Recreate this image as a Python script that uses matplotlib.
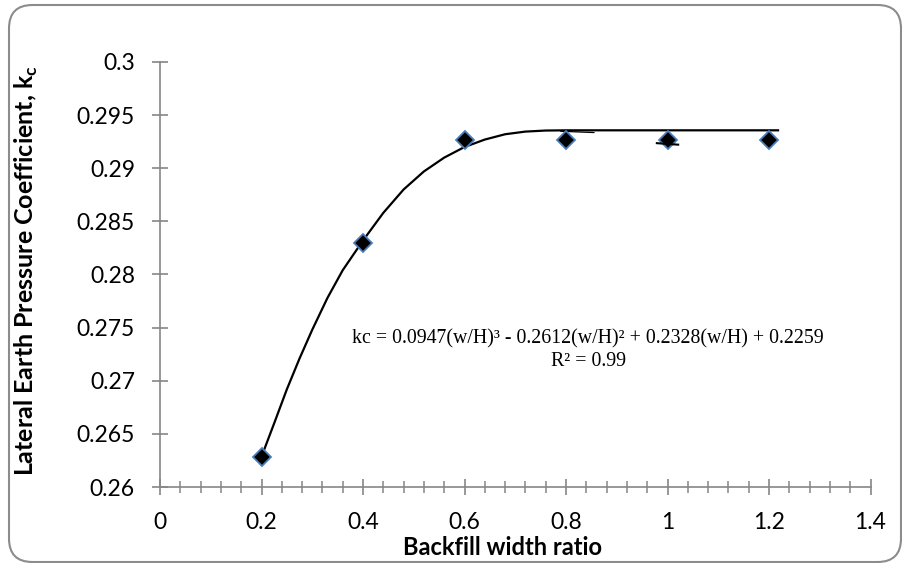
import matplotlib
matplotlib.use("Agg")
import matplotlib.pyplot as plt
from matplotlib.patches import FancyBboxPatch
from matplotlib.ticker import MultipleLocator

# ---- data ----
width_ratio = [0.2, 0.4, 0.6, 0.8, 1.0, 1.2]
kc_values = [0.26285, 0.2830, 0.29266, 0.29266, 0.29266, 0.29266]

# trend line
trend_x = [0.2, 0.225, 0.25, 0.275, 0.3, 0.33, 0.36, 0.4, 0.44, 0.48, 0.52,
           0.56, 0.6, 0.64, 0.68, 0.72, 0.76, 0.8, 1.0, 1.22]
trend_y = [0.26285, 0.2660, 0.2692, 0.2721, 0.2748, 0.2778, 0.2804, 0.2832,
           0.2858, 0.2880, 0.2897, 0.2910, 0.2920, 0.2927, 0.2932, 0.29345,
           0.29355, 0.29357, 0.29357, 0.29357]
# small stray strokes in the reference
hook_x = [0.79, 0.855]
hook_y = [0.29348, 0.29336]
dash_x = [0.979, 1.021]
dash_y = [0.29236, 0.29222]

x_ticks = [0, 0.2, 0.4, 0.6, 0.8, 1.0, 1.2, 1.4]
x_tick_labels = ["0", "0.2", "0.4", "0.6", "0.8", "1", "1.2", "1.4"]
y_ticks = [0.26, 0.265, 0.27, 0.275, 0.28, 0.285, 0.29, 0.295, 0.3]
y_tick_labels = ["0.26", "0.265", "0.27", "0.275", "0.28", "0.285", "0.29", "0.295", "0.3"]

equation = "kc = 0.0947(w/H)³ - 0.2612(w/H)² + 0.2328(w/H) + 0.2259"
r2_text = "R² = 0.99"

plt.rcParams['font.family'] = ['Lato', 'DejaVu Sans']
plt.rcParams['mathtext.fontset'] = 'custom'
plt.rcParams['mathtext.rm'] = 'Lato'
plt.rcParams['mathtext.bf'] = 'Lato:bold'

W, H = 902, 563
fig = plt.figure(figsize=(W / 100, H / 100), dpi=100)

# rounded border
border = FancyBboxPatch((9 / W, 1 / H), (W - 9 - 1) / W, (H - 4 - 2) / H,
                        boxstyle="round,pad=0,rounding_size=0.026",
                        transform=fig.transFigure, facecolor='none',
                        edgecolor='#8c8c8c', linewidth=1.5,
                        mutation_aspect=W / H, zorder=-1)
fig.patches.append(border)

ax = fig.add_axes([160 / W, 1 - 487 / H, (870.5 - 160) / W, (487 - 62) / H])
ax.set_facecolor('none')

ax.plot(trend_x, trend_y, color='black', lw=1.6, zorder=2, solid_capstyle='butt')
ax.plot(hook_x, hook_y, color='black', lw=0.9, zorder=2)
ax.plot(dash_x, dash_y, color='black', lw=1.5, zorder=4)
ax.plot(width_ratio, kc_values, linestyle='none', marker='D', markersize=9.3,
        markerfacecolor='black', markeredgecolor='#4A7EBB', markeredgewidth=1.3,
        zorder=3)

ax.set_xlim(0, 1.4)
ax.set_ylim(0.26, 0.3)
ax.set_xticks(x_ticks)
ax.set_xticklabels(x_tick_labels)
ax.set_yticks(y_ticks)
ax.set_yticklabels(y_tick_labels)
ax.xaxis.set_minor_locator(MultipleLocator(0.04))

for s in ['top', 'right']:
    ax.spines[s].set_visible(False)
for s in ['left', 'bottom']:
    ax.spines[s].set_color('#868686')
    ax.spines[s].set_linewidth(1.2)

ax.tick_params(axis='both', which='major', direction='inout', length=12,
               width=1.2, color='#868686', labelsize=16.5, labelcolor='black')
ax.tick_params(axis='x', which='minor', direction='inout', length=8.5,
               width=1.1, color='#868686')
ax.tick_params(axis='x', which='major', pad=12)
ax.tick_params(axis='y', which='major', pad=12)

ax.set_xlabel("Backfill width ratio", fontsize=17, fontweight='bold')
ax.xaxis.set_label_coords((502.5 - 160) / 710.5, (487 - 536) / 425)
ax.set_ylabel(r"Lateral Earth Pressure Coefficient, k$_\mathbf{c}$", fontsize=18,
              fontweight='bold')
ax.yaxis.set_label_coords((40 - 160) / 710.5, (487 - 271) / 425)

ax.text(0.8434, 0.27396, equation, fontsize=14.3, family='Liberation Serif',
        ha='center', va='center')
ax.text(0.8434, 0.27179, r2_text, fontsize=14.3, family='Liberation Serif',
        ha='center', va='center')

fig.savefig("out.png", dpi=100)
